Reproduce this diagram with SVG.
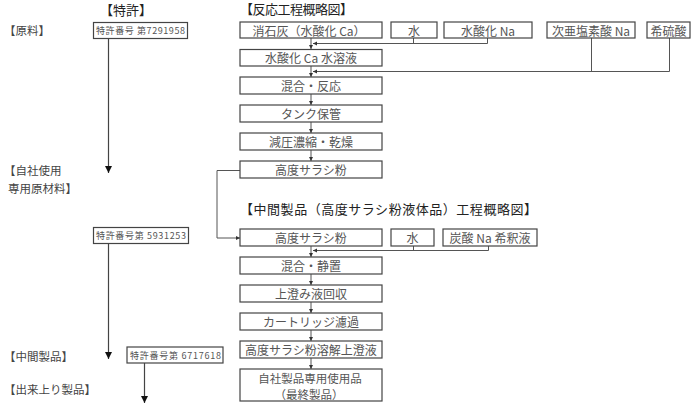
<svg xmlns="http://www.w3.org/2000/svg" width="692" height="405" viewBox="0 0 692 405">
<style>
text{font-family:"Noto Sans CJK JP","Noto Sans",sans-serif;dominant-baseline:central;}
.t{font-size:13px;fill:#222;}
.l{font-size:11.5px;fill:#444;}
.b{font-size:12px;fill:#555;text-anchor:middle;}
.f{font-size:11.5px;}
.p{font-size:9px;fill:#555;}
.box rect{fill:#fff;stroke:#444;stroke-width:1.2;}
.c{fill:none;stroke:#555;stroke-width:1;}
.ca{fill:none;stroke:#444;stroke-width:1.2;}
</style>
<defs>
<marker id="sa" markerWidth="5" markerHeight="5" refX="4" refY="2.5" orient="auto" markerUnits="userSpaceOnUse"><path d="M0,0.5 L4,2.5 L0,4.5 Z" fill="#333"/></marker>
<marker id="ba" markerWidth="8" markerHeight="7" refX="7" refY="3.5" orient="auto" markerUnits="userSpaceOnUse"><path d="M0,0 L7,3.5 L0,7 Z" fill="#111"/></marker>
</defs>
<rect width="692" height="405" fill="#fff"/>

<g id="titles">
<text class="t" x="100" y="9">【特許】</text>
<text class="t" x="240" y="8" textLength="113">【反応工程概略図】</text>
<text class="t" x="240" y="208" textLength="297">【中間製品（高度サラシ粉液体品）工程概略図】</text>
</g>
<g id="left-labels">
<text class="l" x="4" y="30">【原料】</text>
<text class="l" x="4" y="170">【自社使用</text>
<text class="l" x="8" y="188">専用原材料】</text>
<text class="l" x="4" y="356">【中間製品】</text>
<text class="l" x="4" y="389">【出来上り製品】</text>
</g>

<g id="connectors">
<line class="ca" x1="108.5" y1="38" x2="108.5" y2="173" marker-end="url(#ba)"/>
<line class="ca" x1="108.5" y1="244" x2="108.5" y2="359" marker-end="url(#ba)"/>
<line class="ca" x1="144.5" y1="363" x2="144.5" y2="403" marker-end="url(#ba)"/>

<line class="c" x1="311" y1="38" x2="311" y2="49" marker-end="url(#sa)"/>
<line class="c" x1="311" y1="66" x2="311" y2="77" marker-end="url(#sa)"/>
<line class="c" x1="311" y1="94" x2="311" y2="105" marker-end="url(#sa)"/>
<line class="c" x1="311" y1="122" x2="311" y2="133" marker-end="url(#sa)"/>
<line class="c" x1="311" y1="150" x2="311" y2="161" marker-end="url(#sa)"/>

<polyline class="c" points="413.5,38 413.5,43.5"/>
<polyline class="c" points="487.5,38 487.5,43.5 313,43.5" marker-end="url(#sa)"/>
<polyline class="c" points="591.5,38 591.5,71.5"/>
<polyline class="c" points="669.5,38 669.5,71.5 313,71.5" marker-end="url(#sa)"/>

<polyline class="c" points="240,170.5 217,170.5 217,238 240,238" marker-end="url(#sa)"/>

<line class="c" x1="311" y1="246" x2="311" y2="257" marker-end="url(#sa)"/>
<line class="c" x1="311" y1="274" x2="311" y2="285" marker-end="url(#sa)"/>
<line class="c" x1="311" y1="302" x2="311" y2="313" marker-end="url(#sa)"/>
<line class="c" x1="311" y1="330" x2="311" y2="341" marker-end="url(#sa)"/>
<line class="c" x1="311" y1="358" x2="311" y2="369" marker-end="url(#sa)"/>
<polyline class="c" points="413.5,246 413.5,250.5"/>
<polyline class="c" points="488.5,246 488.5,250.5 313,250.5" marker-end="url(#sa)"/>
</g>

<g id="patent1" class="box"><rect x="93.5" y="22.5" width="94" height="16"/><text class="p" x="96" y="30.5" textLength="89">特許番号 第7291958</text></g>
<g id="patent2" class="box"><rect x="93.5" y="227.5" width="95" height="16"/><text class="p" x="96" y="235.5" textLength="90">特許番号第 5931253</text></g>
<g id="patent3" class="box"><rect x="127" y="347" width="96" height="16"/><text class="p" x="130" y="355" textLength="91">特許番号第 6717618</text></g>

<g id="n-shoseki" class="box"><rect x="240" y="22" width="142" height="16"/><text class="b" x="309" y="30">消石灰（水酸化 Ca）</text></g>
<g id="n-mizu1" class="box"><rect x="391" y="22" width="46" height="16"/><text class="b" x="414" y="30">水</text></g>
<g id="n-naoh" class="box"><rect x="444" y="22" width="88" height="16"/><text class="b" x="488" y="30">水酸化 Na</text></g>
<g id="n-naclo" class="box"><rect x="547" y="22" width="88" height="16"/><text class="b" x="591" y="30">次亜塩素酸 Na</text></g>
<g id="n-kiryu" class="box"><rect x="647" y="22" width="43" height="16"/><text class="b" x="668.5" y="30">希硫酸</text></g>

<g id="n-caaq" class="box"><rect x="240" y="49.5" width="142" height="16.5"/><text class="b" x="311" y="57.75">水酸化 Ca 水溶液</text></g>
<g id="n-konwa1" class="box"><rect x="240" y="77" width="142" height="17"/><text class="b" x="311" y="85.5">混合・反応</text></g>
<g id="n-tank" class="box"><rect x="240" y="105" width="142" height="17"/><text class="b" x="311" y="113.5">タンク保管</text></g>
<g id="n-gen" class="box"><rect x="240" y="133" width="142" height="17"/><text class="b" x="311" y="141.5">減圧濃縮・乾燥</text></g>
<g id="n-sarashi1" class="box"><rect x="240" y="161" width="142" height="17"/><text class="b" x="311" y="169.5">高度サラシ粉</text></g>

<g id="n-sarashi2" class="box"><rect x="240" y="229" width="142" height="17"/><text class="b" x="311" y="237.5">高度サラシ粉</text></g>
<g id="n-mizu2" class="box"><rect x="391" y="229" width="43" height="17"/><text class="b" x="412.5" y="237.5">水</text></g>
<g id="n-tansan" class="box"><rect x="443" y="229" width="94" height="17"/><text class="b" x="490" y="237.5">炭酸 Na 希釈液</text></g>
<g id="n-konwa2" class="box"><rect x="240" y="257" width="142" height="17"/><text class="b" x="311" y="265.5">混合・静置</text></g>
<g id="n-uwazumi" class="box"><rect x="240" y="285" width="142" height="17"/><text class="b" x="311" y="293.5">上澄み液回収</text></g>
<g id="n-cart" class="box"><rect x="240" y="313" width="142" height="17"/><text class="b" x="311" y="321.5">カートリッジ濾過</text></g>
<g id="n-yokai" class="box"><rect x="240" y="341" width="142" height="17"/><text class="b" x="311" y="349.5">高度サラシ粉溶解上澄液</text></g>
<g id="n-final" class="box"><rect x="240" y="369" width="142" height="32"/><text class="b f" x="310" y="378">自社製品専用使用品</text><text class="b f" x="309" y="393.5">（最終製品）</text></g>
</svg>
